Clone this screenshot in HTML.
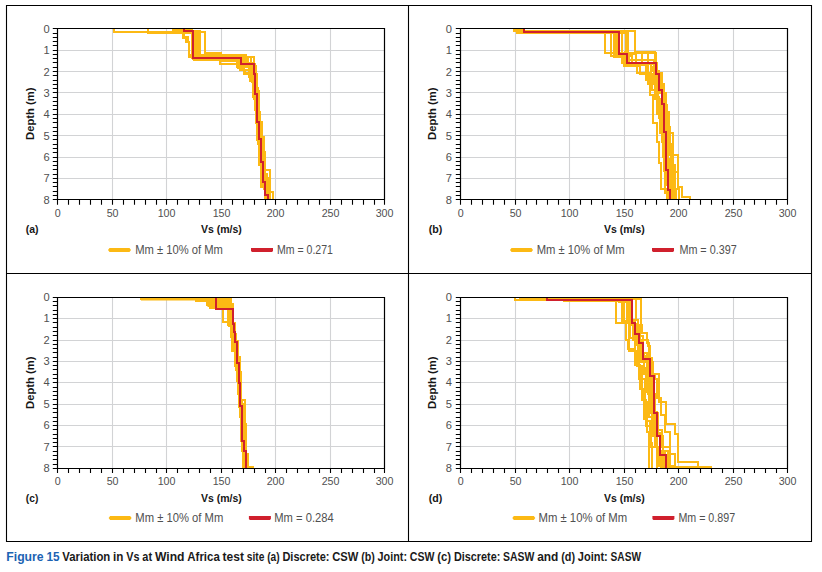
<!DOCTYPE html><html><head><meta charset="utf-8"><title>Figure 15</title><style>html,body{margin:0;padding:0;background:#fff}body{width:822px;height:572px;overflow:hidden}svg{display:block}</style></head><body>
<svg width="822" height="572" viewBox="0 0 822 572" font-family="'Liberation Sans', Arial, sans-serif">
<rect width="822" height="572" fill="#fff"/>
<path d="M6.5 5.5H811.5V541.5H6.5ZM408.5 5.5V541.5M6.5 273.5H811.5" fill="none" stroke="#000" stroke-width="1.1"/>
<g transform="translate(0,0)">
<path d="M112.5 29V199M166.5 29V199M221.5 29V199M275.5 29V199M330.5 29V199M58 50.5H384M58 71.5H384M58 92.5H384M58 114.5H384M58 135.5H384M58 157.5H384M58 178.5H384" stroke="#d2d3d5" stroke-width="1.1" fill="none"/>
<g fill="none" stroke-width="2" stroke-linejoin="miter" stroke-linecap="butt">
<polyline points="114,29 114,32 183,32 183,38 186,38 186,42 189,42 189,57 251,57 251,65 255,65 255,84 256,84 256,101 258,101 258,127 260,127 260,148 261,148 261,167 264,167 264,189 267,189 267,199" stroke="#fcb914"/>
<polyline points="148,29 148,33 196,33 196,60 238,60 238,68 244,68 244,74 250,74 250,81 253,81 253,97 257,97 257,114 260,114 260,135 262,135 262,152 265,152 265,170 270,170 270,192 273,192 273,199" stroke="#fcb914"/>
<polyline points="173,29 173,31 198,31 198,60 220,60 220,64 240,64 240,70 245,70 245,73 252,73 252,82 254,82 254,97 256,97 256,120 260,120 260,142 261,142 261,157 265,157 265,185 269,185 269,199" stroke="#fcb914"/>
<polyline points="179,29 179,31 200,31 200,55 239,55 239,57 248,57 248,64 255,64 255,88 258,88 258,112 260,112 260,133 262,133 262,152 265,152 265,170 270,170 270,192 273,192 273,199" stroke="#fcb914"/>
<polyline points="185,29 185,30 192,30 192,57 254,57 254,63 253,63 253,82 256,82 256,99 259,99 259,127 261,127 261,146 264,146 264,174 267,174 267,199" stroke="#fcb914"/>
<polyline points="184,29 184,32 205,32 205,53 221,53 221,55 246,55 246,63 250,63 250,76 255,76 255,103 257,103 257,118 260,118 260,135 261,135 261,157 264,157 264,178 268,178 268,199" stroke="#fcb914"/>
<polyline points="181,29 181,31 194,31 194,60 220,60 220,61 237,61 237,67 249,67 249,77 254,77 254,93 258,93 258,131 260,131 260,148 262,148 262,170 265,170 265,189 270,189 270,199" stroke="#fcb914"/>
<polyline points="182,29 182,32 193,32 193,59 243,59 243,70 253,70 253,93 255,93 255,110 257,110 257,140 259,140 259,165 261,165 261,187 266,187 266,199" stroke="#fcb914"/>
<polyline points="175,29 175,30 184,30 184,37 188,37 188,42 189,42 189,55 245,55 245,63 252,63 252,78 254,78 254,99 256,99 256,123 258,123 258,144 261,144 261,163 262,163 262,185 265,185 265,199" stroke="#fcb914"/>
<polyline points="192,31 192,58 240,58 240,66 256,66 256,74 257,74 257,94 256,94 256,122 262,122 262,137 264,137 264,162 264,162 264,182 267,182 267,196 267,196 267,199" stroke="#fcb914"/>
<polyline points="239,59 239,65 254,65 254,73 254,73 254,91 259,91 259,121 257,121 257,138 263,138 263,164 261,164 261,183 266,183 266,195 267,195 267,199" stroke="#fcb914"/>
<polyline points="184,29 184,31 193,31 193,58 241,58 241,64 254,64 254,74 255,74 255,94 257,94 257,122 259,122 259,139 261,139 261,162 263,162 263,182 265,182 265,195 268,195 268,199" stroke="#d0202d"/>
</g>
<path d="M57.5 28.5H384.5V199.5H57.5Z" fill="none" stroke="#000" stroke-width="1.2"/>
<path d="M57.5 199.5V204.8M68.5 199.5V204.8M79.5 199.5V204.8M90.5 199.5V204.8M101.5 199.5V204.8M112.5 199.5V204.8M123.5 199.5V204.8M134.5 199.5V204.8M145.5 199.5V204.8M156.5 199.5V204.8M166.5 199.5V204.8M177.5 199.5V204.8M188.5 199.5V204.8M199.5 199.5V204.8M210.5 199.5V204.8M221.5 199.5V204.8M232.5 199.5V204.8M243.5 199.5V204.8M254.5 199.5V204.8M265.5 199.5V204.8M275.5 199.5V204.8M286.5 199.5V204.8M297.5 199.5V204.8M308.5 199.5V204.8M319.5 199.5V204.8M330.5 199.5V204.8M341.5 199.5V204.8M352.5 199.5V204.8M363.5 199.5V204.8M374.5 199.5V204.8M384.5 199.5V204.8M52.8 28.5H57.5M52.8 33.5H57.5M52.8 37.5H57.5M52.8 41.5H57.5M52.8 45.5H57.5M52.8 50.5H57.5M52.8 54.5H57.5M52.8 58.5H57.5M52.8 62.5H57.5M52.8 67.5H57.5M52.8 71.5H57.5M52.8 75.5H57.5M52.8 80.5H57.5M52.8 84.5H57.5M52.8 88.5H57.5M52.8 92.5H57.5M52.8 97.5H57.5M52.8 101.5H57.5M52.8 105.5H57.5M52.8 109.5H57.5M52.8 114.5H57.5M52.8 118.5H57.5M52.8 122.5H57.5M52.8 127.5H57.5M52.8 131.5H57.5M52.8 135.5H57.5M52.8 139.5H57.5M52.8 144.5H57.5M52.8 148.5H57.5M52.8 152.5H57.5M52.8 157.5H57.5M52.8 161.5H57.5M52.8 165.5H57.5M52.8 169.5H57.5M52.8 174.5H57.5M52.8 178.5H57.5M52.8 182.5H57.5M52.8 186.5H57.5M52.8 191.5H57.5M52.8 195.5H57.5M52.8 199.5H57.5" stroke="#000" stroke-width="1.1" fill="none"/>
<g font-size="11" fill="#505050"><text x="49.6" y="32.8" text-anchor="end" textLength="6.2" lengthAdjust="spacingAndGlyphs">0</text><text x="49.6" y="54.2" text-anchor="end" textLength="6.2" lengthAdjust="spacingAndGlyphs">1</text><text x="49.6" y="75.5" text-anchor="end" textLength="6.2" lengthAdjust="spacingAndGlyphs">2</text><text x="49.6" y="96.9" text-anchor="end" textLength="6.2" lengthAdjust="spacingAndGlyphs">3</text><text x="49.6" y="118.3" text-anchor="end" textLength="6.2" lengthAdjust="spacingAndGlyphs">4</text><text x="49.6" y="139.7" text-anchor="end" textLength="6.2" lengthAdjust="spacingAndGlyphs">5</text><text x="49.6" y="161.1" text-anchor="end" textLength="6.2" lengthAdjust="spacingAndGlyphs">6</text><text x="49.6" y="182.4" text-anchor="end" textLength="6.2" lengthAdjust="spacingAndGlyphs">7</text><text x="49.6" y="203.8" text-anchor="end" textLength="6.2" lengthAdjust="spacingAndGlyphs">8</text><text x="57.6" y="216.9" text-anchor="middle" textLength="5.95" lengthAdjust="spacingAndGlyphs">0</text><text x="112.6" y="216.9" text-anchor="middle" textLength="11.90" lengthAdjust="spacingAndGlyphs">50</text><text x="166.6" y="216.9" text-anchor="middle" textLength="17.85" lengthAdjust="spacingAndGlyphs">100</text><text x="221.6" y="216.9" text-anchor="middle" textLength="17.85" lengthAdjust="spacingAndGlyphs">150</text><text x="275.6" y="216.9" text-anchor="middle" textLength="17.85" lengthAdjust="spacingAndGlyphs">200</text><text x="330.6" y="216.9" text-anchor="middle" textLength="17.85" lengthAdjust="spacingAndGlyphs">250</text><text x="384.6" y="216.9" text-anchor="middle" textLength="17.85" lengthAdjust="spacingAndGlyphs">300</text></g>
<g font-weight="bold" font-size="11.6" fill="#161616">
<text x="200.9" y="233.4" textLength="40.9" lengthAdjust="spacingAndGlyphs">Vs (m/s)</text>
<text x="25.8" y="233.4" textLength="12.8" lengthAdjust="spacingAndGlyphs">(a)</text>
<text transform="translate(33.9,139.9) rotate(-90)" textLength="52.3" lengthAdjust="spacingAndGlyphs">Depth (m)</text>
</g>
<polygon points="108,250 109.5,248 129.5,248 131,250 129.5,252 109.5,252" fill="#fcb914"/>
<polygon points="251,248 273,248 273,251 272,252 252,252 251,251" fill="#d0202d"/>
<g font-size="12.4" fill="#505050">
<text x="135.2" y="253.9" textLength="87.7" lengthAdjust="spacingAndGlyphs">Mm ± 10% of Mm</text>
<text x="277.0" y="253.9" textLength="55.9" lengthAdjust="spacingAndGlyphs">Mm = 0.271</text>
</g></g>
<g transform="translate(403,0)">
<path d="M112.5 29V199M166.5 29V199M221.5 29V199M275.5 29V199M330.5 29V199M58 50.5H384M58 71.5H384M58 92.5H384M58 114.5H384M58 135.5H384M58 157.5H384M58 178.5H384" stroke="#d2d3d5" stroke-width="1.1" fill="none"/>
<g fill="none" stroke-width="2" stroke-linejoin="miter" stroke-linecap="butt">
<polyline points="111,29 111,31 202,31 202,53 253,53 253,63 254,63 254,73 258,73 258,88 260,88 260,112 264,112 264,133 266,133 266,155 270,155 270,172 275,172 275,187 279,187 279,197 287,197 287,199" stroke="#fcb914"/>
<polyline points="114,29 114,32 208,32 208,56 219,56 219,63 234,63 234,73 247,73 247,95 250,95 250,123 254,123 254,142 256,142 256,163 258,163 258,189 264,189 264,199" stroke="#fcb914"/>
<polyline points="117,29 117,31 211,31 211,57 226,57 226,64 243,64 243,80 252,80 252,99 257,99 257,123 261,123 261,146 265,146 265,172 269,172 269,191 273,191 273,199" stroke="#fcb914"/>
<polyline points="120,29 120,32 213,32 213,56 229,56 229,65 245,65 245,84 254,84 254,112 259,112 259,135 262,135 262,159 266,159 266,182 270,182 270,199" stroke="#fcb914"/>
<polyline points="114,29 114,33 219,33 219,53 239,53 239,63 251,63 251,82 255,82 255,103 259,103 259,125 264,125 264,146 268,146 268,165 272,165 272,189 276,189 276,199" stroke="#fcb914"/>
<polyline points="119,29 119,33 223,33 223,53 245,53 245,64 254,64 254,73 259,73 259,93 263,93 263,112 266,112 266,133 270,133 270,155 275,155 275,172 271,172 271,199" stroke="#fcb914"/>
<polyline points="116,29 116,32 225,32 225,54 233,54 233,64 248,64 248,76 253,76 253,97 256,97 256,118 259,118 259,142 261,142 261,163 264,163 264,185 267,185 267,199" stroke="#fcb914"/>
<polyline points="113,29 113,31 232,31 232,52 252,52 252,63 254,63 254,73 258,73 258,84 261,84 261,105 264,105 264,127 267,127 267,144 268,144 268,170 270,170 270,191 272,191 272,199" stroke="#fcb914"/>
<polyline points="119,29 119,31 214,31 214,57 221,57 221,66 237,66 237,74 249,74 249,90 254,90 254,114 257,114 257,133 260,133 260,157 262,157 262,178 266,178 266,199" stroke="#fcb914"/>
<polyline points="223,55 223,64 253,64 253,74 253,74 253,88 259,88 259,106 259,106 259,134 261,134 261,170 262,170 262,190 269,190 269,199" stroke="#fcb914"/>
<polyline points="222,51 222,60 253,60 253,77 257,77 257,88 259,88 259,102 262,102 262,133 263,133 263,169 262,169 262,193 268,193 268,199" stroke="#fcb914"/>
<polyline points="251,67 251,70 254,70 254,91 261,91 261,104 261,104 261,132 264,132 264,167 267,167 267,187 267,187 267,199" stroke="#fcb914"/>
<polyline points="251,61 251,77 256,77 256,88 260,88 260,105 257,105 257,129 261,129 261,171 266,171 266,188 267,188 267,199" stroke="#fcb914"/>
<polyline points="250,66 250,71 256,71 256,93 260,93 260,106 260,106 260,128 263,128 263,174 265,174 265,188 268,188 268,199" stroke="#fcb914"/>
<polyline points="121,29 121,32 216,32 216,54 224,54 224,63 253,63 253,74 256,74 256,90 259,90 259,104 261,104 261,132 263,132 263,170 265,170 265,190 267,190 267,199" stroke="#d0202d"/>
</g>
<path d="M57.5 28.5H384.5V199.5H57.5Z" fill="none" stroke="#000" stroke-width="1.2"/>
<path d="M57.5 199.5V204.8M68.5 199.5V204.8M79.5 199.5V204.8M90.5 199.5V204.8M101.5 199.5V204.8M112.5 199.5V204.8M123.5 199.5V204.8M133.5 199.5V204.8M144.5 199.5V204.8M155.5 199.5V204.8M166.5 199.5V204.8M177.5 199.5V204.8M188.5 199.5V204.8M199.5 199.5V204.8M210.5 199.5V204.8M221.5 199.5V204.8M232.5 199.5V204.8M242.5 199.5V204.8M253.5 199.5V204.8M264.5 199.5V204.8M275.5 199.5V204.8M286.5 199.5V204.8M297.5 199.5V204.8M308.5 199.5V204.8M319.5 199.5V204.8M330.5 199.5V204.8M341.5 199.5V204.8M351.5 199.5V204.8M362.5 199.5V204.8M373.5 199.5V204.8M384.5 199.5V204.8M52.8 28.5H57.5M52.8 33.5H57.5M52.8 37.5H57.5M52.8 41.5H57.5M52.8 45.5H57.5M52.8 50.5H57.5M52.8 54.5H57.5M52.8 58.5H57.5M52.8 62.5H57.5M52.8 67.5H57.5M52.8 71.5H57.5M52.8 75.5H57.5M52.8 80.5H57.5M52.8 84.5H57.5M52.8 88.5H57.5M52.8 92.5H57.5M52.8 97.5H57.5M52.8 101.5H57.5M52.8 105.5H57.5M52.8 109.5H57.5M52.8 114.5H57.5M52.8 118.5H57.5M52.8 122.5H57.5M52.8 127.5H57.5M52.8 131.5H57.5M52.8 135.5H57.5M52.8 139.5H57.5M52.8 144.5H57.5M52.8 148.5H57.5M52.8 152.5H57.5M52.8 157.5H57.5M52.8 161.5H57.5M52.8 165.5H57.5M52.8 169.5H57.5M52.8 174.5H57.5M52.8 178.5H57.5M52.8 182.5H57.5M52.8 186.5H57.5M52.8 191.5H57.5M52.8 195.5H57.5M52.8 199.5H57.5" stroke="#000" stroke-width="1.1" fill="none"/>
<g font-size="11" fill="#505050"><text x="48.9" y="32.8" text-anchor="end" textLength="6.2" lengthAdjust="spacingAndGlyphs">0</text><text x="48.9" y="54.2" text-anchor="end" textLength="6.2" lengthAdjust="spacingAndGlyphs">1</text><text x="48.9" y="75.5" text-anchor="end" textLength="6.2" lengthAdjust="spacingAndGlyphs">2</text><text x="48.9" y="96.9" text-anchor="end" textLength="6.2" lengthAdjust="spacingAndGlyphs">3</text><text x="48.9" y="118.3" text-anchor="end" textLength="6.2" lengthAdjust="spacingAndGlyphs">4</text><text x="48.9" y="139.7" text-anchor="end" textLength="6.2" lengthAdjust="spacingAndGlyphs">5</text><text x="48.9" y="161.1" text-anchor="end" textLength="6.2" lengthAdjust="spacingAndGlyphs">6</text><text x="48.9" y="182.4" text-anchor="end" textLength="6.2" lengthAdjust="spacingAndGlyphs">7</text><text x="48.9" y="203.8" text-anchor="end" textLength="6.2" lengthAdjust="spacingAndGlyphs">8</text><text x="57.6" y="216.9" text-anchor="middle" textLength="5.95" lengthAdjust="spacingAndGlyphs">0</text><text x="112.6" y="216.9" text-anchor="middle" textLength="11.90" lengthAdjust="spacingAndGlyphs">50</text><text x="166.6" y="216.9" text-anchor="middle" textLength="17.85" lengthAdjust="spacingAndGlyphs">100</text><text x="221.6" y="216.9" text-anchor="middle" textLength="17.85" lengthAdjust="spacingAndGlyphs">150</text><text x="275.6" y="216.9" text-anchor="middle" textLength="17.85" lengthAdjust="spacingAndGlyphs">200</text><text x="330.6" y="216.9" text-anchor="middle" textLength="17.85" lengthAdjust="spacingAndGlyphs">250</text><text x="384.6" y="216.9" text-anchor="middle" textLength="17.85" lengthAdjust="spacingAndGlyphs">300</text></g>
<g font-weight="bold" font-size="11.6" fill="#161616">
<text x="200.9" y="233.4" textLength="40.9" lengthAdjust="spacingAndGlyphs">Vs (m/s)</text>
<text x="25.8" y="233.4" textLength="13.6" lengthAdjust="spacingAndGlyphs">(b)</text>
<text transform="translate(32.9,139.9) rotate(-90)" textLength="52.3" lengthAdjust="spacingAndGlyphs">Depth (m)</text>
</g>
<polygon points="107,250 108.5,248 128.5,248 130,250 128.5,252 108.5,252" fill="#fcb914"/>
<polygon points="249,248 271,248 271,251 270,252 250,252 249,251" fill="#d0202d"/>
<g font-size="12.4" fill="#505050">
<text x="133.7" y="253.9" textLength="88.0" lengthAdjust="spacingAndGlyphs">Mm ± 10% of Mm</text>
<text x="276.4" y="253.9" textLength="57.3" lengthAdjust="spacingAndGlyphs">Mm = 0.397</text>
</g></g>
<g transform="translate(0,269)">
<path d="M112.5 29V199M166.5 29V199M221.5 29V199M275.5 29V199M330.5 29V199M58 49.5H384M58 71.5H384M58 92.5H384M58 113.5H384M58 135.5H384M58 156.5H384M58 177.5H384" stroke="#d2d3d5" stroke-width="1.1" fill="none"/>
<g fill="none" stroke-width="2" stroke-linejoin="miter" stroke-linecap="butt">
<polyline points="141,29 141,30 223,30 223,53 229,53 229,56 231,56 231,68 232,68 232,82 235,82 235,95 237,95 237,112 239,112 239,138 241,138 241,172 243,172 243,199" stroke="#fcb914"/>
<polyline points="185,29 185,30 229,30 229,57 232,57 232,76 235,76 235,97 238,97 238,116 240,116 240,135 244,135 244,155 246,155 246,185 248,185 248,198 253,198 253,199" stroke="#fcb914"/>
<polyline points="196,29 196,32 230,32 230,54 235,54 235,65 236,65 236,72 238,72 238,93 240,93 240,103 241,103 241,131 245,131 245,155 246,155 246,185 247,185 247,199" stroke="#fcb914"/>
<polyline points="207,29 207,36 231,36 231,55 233,55 233,73 235,73 235,93 238,93 238,114 240,114 240,140 242,140 242,167 244,167 244,189 247,189 247,199" stroke="#fcb914"/>
<polyline points="210,29 210,39 232,39 232,58 234,58 234,69 236,69 236,90 238,90 238,105 240,105 240,127 241,127 241,148 243,148 243,176 245,176 245,199" stroke="#fcb914"/>
<polyline points="223,29 223,39 232,39 232,56 234,56 234,71 236,71 236,88 240,88 240,94 239,94 239,114 241,114 241,131 242,131 242,157 244,157 244,182 246,182 246,199" stroke="#fcb914"/>
<polyline points="166,29 166,29 228,29 228,56 231,56 231,67 233,67 233,82 236,82 236,101 238,101 238,125 240,125 240,148 242,148 242,182 244,182 244,199" stroke="#fcb914"/>
<polygon points="141,29 232,29 232,34 234,34 234,40 211,40 211,38 207.5,38 207.5,37 206,37 206,33 196,33 196,31.4 141,31.4" fill="#fcb914" stroke="none"/>
<polyline points="216,29 216,40 233,40 233,55 234,55 234,63 235,63 235,73 237,73 237,94 239,94 239,114 240,114 240,137 242,137 242,172 244,172 244,182 246,182 246,199" stroke="#d0202d"/>
</g>
<path d="M57.5 28.5H384.5V199.5H57.5Z" fill="none" stroke="#000" stroke-width="1.2"/>
<path d="M57.5 199.5V203.9M68.5 199.5V203.9M79.5 199.5V203.9M90.5 199.5V203.9M101.5 199.5V203.9M112.5 199.5V203.9M123.5 199.5V203.9M134.5 199.5V203.9M145.5 199.5V203.9M156.5 199.5V203.9M166.5 199.5V203.9M177.5 199.5V203.9M188.5 199.5V203.9M199.5 199.5V203.9M210.5 199.5V203.9M221.5 199.5V203.9M232.5 199.5V203.9M243.5 199.5V203.9M254.5 199.5V203.9M265.5 199.5V203.9M275.5 199.5V203.9M286.5 199.5V203.9M297.5 199.5V203.9M308.5 199.5V203.9M319.5 199.5V203.9M330.5 199.5V203.9M341.5 199.5V203.9M352.5 199.5V203.9M363.5 199.5V203.9M374.5 199.5V203.9M384.5 199.5V203.9M52.8 28.5H57.5M52.8 32.5H57.5M52.8 36.5H57.5M52.8 41.5H57.5M52.8 45.5H57.5M52.8 49.5H57.5M52.8 53.5H57.5M52.8 58.5H57.5M52.8 62.5H57.5M52.8 66.5H57.5M52.8 71.5H57.5M52.8 75.5H57.5M52.8 79.5H57.5M52.8 83.5H57.5M52.8 88.5H57.5M52.8 92.5H57.5M52.8 96.5H57.5M52.8 100.5H57.5M52.8 105.5H57.5M52.8 109.5H57.5M52.8 113.5H57.5M52.8 118.5H57.5M52.8 122.5H57.5M52.8 126.5H57.5M52.8 130.5H57.5M52.8 135.5H57.5M52.8 139.5H57.5M52.8 143.5H57.5M52.8 148.5H57.5M52.8 152.5H57.5M52.8 156.5H57.5M52.8 160.5H57.5M52.8 165.5H57.5M52.8 169.5H57.5M52.8 173.5H57.5M52.8 177.5H57.5M52.8 182.5H57.5M52.8 186.5H57.5M52.8 190.5H57.5M52.8 195.5H57.5M52.8 199.5H57.5" stroke="#000" stroke-width="1.1" fill="none"/>
<g font-size="11" fill="#505050"><text x="49.6" y="31.9" text-anchor="end" textLength="6.2" lengthAdjust="spacingAndGlyphs">0</text><text x="49.6" y="53.3" text-anchor="end" textLength="6.2" lengthAdjust="spacingAndGlyphs">1</text><text x="49.6" y="74.6" text-anchor="end" textLength="6.2" lengthAdjust="spacingAndGlyphs">2</text><text x="49.6" y="96.0" text-anchor="end" textLength="6.2" lengthAdjust="spacingAndGlyphs">3</text><text x="49.6" y="117.4" text-anchor="end" textLength="6.2" lengthAdjust="spacingAndGlyphs">4</text><text x="49.6" y="138.8" text-anchor="end" textLength="6.2" lengthAdjust="spacingAndGlyphs">5</text><text x="49.6" y="160.2" text-anchor="end" textLength="6.2" lengthAdjust="spacingAndGlyphs">6</text><text x="49.6" y="181.5" text-anchor="end" textLength="6.2" lengthAdjust="spacingAndGlyphs">7</text><text x="49.6" y="202.9" text-anchor="end" textLength="6.2" lengthAdjust="spacingAndGlyphs">8</text><text x="57.6" y="216.0" text-anchor="middle" textLength="5.95" lengthAdjust="spacingAndGlyphs">0</text><text x="112.6" y="216.0" text-anchor="middle" textLength="11.90" lengthAdjust="spacingAndGlyphs">50</text><text x="166.6" y="216.0" text-anchor="middle" textLength="17.85" lengthAdjust="spacingAndGlyphs">100</text><text x="221.6" y="216.0" text-anchor="middle" textLength="17.85" lengthAdjust="spacingAndGlyphs">150</text><text x="275.6" y="216.0" text-anchor="middle" textLength="17.85" lengthAdjust="spacingAndGlyphs">200</text><text x="330.6" y="216.0" text-anchor="middle" textLength="17.85" lengthAdjust="spacingAndGlyphs">250</text><text x="384.6" y="216.0" text-anchor="middle" textLength="17.85" lengthAdjust="spacingAndGlyphs">300</text></g>
<g font-weight="bold" font-size="11.6" fill="#161616">
<text x="200.9" y="233.4" textLength="40.9" lengthAdjust="spacingAndGlyphs">Vs (m/s)</text>
<text x="25.8" y="233.4" textLength="12.5" lengthAdjust="spacingAndGlyphs">(c)</text>
<text transform="translate(33.9,139.9) rotate(-90)" textLength="52.3" lengthAdjust="spacingAndGlyphs">Depth (m)</text>
</g>
<polygon points="108.6,249 110.1,247 130.1,247 131.6,249 130.1,251 110.1,251" fill="#fcb914"/>
<polygon points="248.9,247 270.9,247 270.9,250 269.9,251 249.9,251 248.9,250" fill="#d0202d"/>
<g font-size="12.4" fill="#505050">
<text x="135.29999999999998" y="252.9" textLength="88.0" lengthAdjust="spacingAndGlyphs">Mm ± 10% of Mm</text>
<text x="274.3" y="252.9" textLength="59.4" lengthAdjust="spacingAndGlyphs">Mm = 0.284</text>
</g></g>
<g transform="translate(403,269)">
<path d="M112.5 29V199M166.5 29V199M221.5 29V199M275.5 29V199M330.5 29V199M58 49.5H384M58 71.5H384M58 92.5H384M58 113.5H384M58 135.5H384M58 156.5H384M58 177.5H384" stroke="#d2d3d5" stroke-width="1.1" fill="none"/>
<g fill="none" stroke-width="2" stroke-linejoin="miter" stroke-linecap="butt">
<polyline points="112,29 112,31 213,31 213,54 223,54 223,71 225,71 225,80 232,80 232,96 237,96 237,120 241,120 241,150 244,150 244,163 246,163 246,199" stroke="#fcb914"/>
<polyline points="161,29 161,32 221,32 221,54 230,54 230,71 235,71 235,86 241,86 241,105 245,105 245,125 249,125 249,146 255,146 255,167 260,167 260,182 265,182 265,199" stroke="#fcb914"/>
<polyline points="188,29 188,31 224,31 224,51 226,51 226,82 234,82 234,97 239,97 239,131 243,131 243,157 248,157 248,178 254,178 254,199" stroke="#fcb914"/>
<polyline points="210,29 210,31 226,31 226,56 237,56 237,71 245,71 245,77 247,77 247,93 250,93 250,105 256,105 256,133 263,133 263,155 272,155 272,165 275,165 275,193 295,193 295,199" stroke="#fcb914"/>
<polyline points="128,29 128,30 233,30 233,51 235,51 235,67 240,67 240,84 244,84 244,103 248,103 248,125 252,125 252,144 255,144 255,161 259,161 259,178 267,178 267,198 308,198 308,199" stroke="#fcb914"/>
<polyline points="221,29 221,30 238,30 238,56 239,56 239,64 244,64 244,74 246,74 246,89 249,89 249,106 252,106 252,110 254,110 254,129 258,129 258,146 262,146 262,163 267,163 267,185 272,185 272,199" stroke="#fcb914"/>
<polyline points="177,29 177,31 226,31 226,53 232,53 232,63 236,63 236,84 241,84 241,99 243,99 243,123 246,123 246,148 250,148 250,167 254,167 254,189 258,189 258,199" stroke="#fcb914"/>
<polyline points="216,29 216,33 228,33 228,55 234,55 234,76 238,76 238,93 245,93 245,114 247,114 247,135 249,135 249,157 252,157 252,178 256,178 256,197 270,197 270,199" stroke="#fcb914"/>
<polyline points="117,29 117,30 219,30 219,52 227,52 227,69 232,69 232,88 236,88 236,110 242,110 242,133 244,133 244,152 247,152 247,174 249,174 249,199" stroke="#fcb914"/>
<polyline points="229,30 229,53 232,53 232,63 237,63 237,76 238,76 238,90 244,90 244,108 248,108 248,144 254,144 254,166 254,166 254,188 263,188 263,199" stroke="#fcb914"/>
<polyline points="227,32 227,51 231,51 231,63 233,63 233,72 238,72 238,91 247,91 247,108 251,108 251,147 252,147 252,164 257,164 257,186 264,186 264,199" stroke="#fcb914"/>
<polyline points="232,56 232,62 234,62 234,73 239,73 239,91 244,91 244,110 247,110 247,144 254,144 254,167 257,167 257,182 260,182 260,199" stroke="#fcb914"/>
<polyline points="231,55 231,67 234,67 234,72 238,72 238,88 246,88 246,105 249,105 249,142 251,142 251,164 257,164 257,184 262,184 262,199" stroke="#fcb914"/>
<polyline points="232,54 232,62 234,62 234,73 240,73 240,87 247,87 247,104 250,104 250,143 254,143 254,164 257,164 257,185 261,185 261,199" stroke="#fcb914"/>
<polyline points="144,29 144,31 229,31 229,54 232,54 232,65 236,65 236,74 240,74 240,90 247,90 247,107 251,107 251,144 254,144 254,167 257,167 257,186 263,186 263,199" stroke="#d0202d"/>
</g>
<path d="M57.5 28.5H384.5V199.5H57.5Z" fill="none" stroke="#000" stroke-width="1.2"/>
<path d="M57.5 199.5V203.9M68.5 199.5V203.9M79.5 199.5V203.9M90.5 199.5V203.9M101.5 199.5V203.9M112.5 199.5V203.9M123.5 199.5V203.9M133.5 199.5V203.9M144.5 199.5V203.9M155.5 199.5V203.9M166.5 199.5V203.9M177.5 199.5V203.9M188.5 199.5V203.9M199.5 199.5V203.9M210.5 199.5V203.9M221.5 199.5V203.9M232.5 199.5V203.9M242.5 199.5V203.9M253.5 199.5V203.9M264.5 199.5V203.9M275.5 199.5V203.9M286.5 199.5V203.9M297.5 199.5V203.9M308.5 199.5V203.9M319.5 199.5V203.9M330.5 199.5V203.9M341.5 199.5V203.9M351.5 199.5V203.9M362.5 199.5V203.9M373.5 199.5V203.9M384.5 199.5V203.9M52.8 28.5H57.5M52.8 32.5H57.5M52.8 36.5H57.5M52.8 41.5H57.5M52.8 45.5H57.5M52.8 49.5H57.5M52.8 53.5H57.5M52.8 58.5H57.5M52.8 62.5H57.5M52.8 66.5H57.5M52.8 71.5H57.5M52.8 75.5H57.5M52.8 79.5H57.5M52.8 83.5H57.5M52.8 88.5H57.5M52.8 92.5H57.5M52.8 96.5H57.5M52.8 100.5H57.5M52.8 105.5H57.5M52.8 109.5H57.5M52.8 113.5H57.5M52.8 118.5H57.5M52.8 122.5H57.5M52.8 126.5H57.5M52.8 130.5H57.5M52.8 135.5H57.5M52.8 139.5H57.5M52.8 143.5H57.5M52.8 148.5H57.5M52.8 152.5H57.5M52.8 156.5H57.5M52.8 160.5H57.5M52.8 165.5H57.5M52.8 169.5H57.5M52.8 173.5H57.5M52.8 177.5H57.5M52.8 182.5H57.5M52.8 186.5H57.5M52.8 190.5H57.5M52.8 195.5H57.5M52.8 199.5H57.5" stroke="#000" stroke-width="1.1" fill="none"/>
<g font-size="11" fill="#505050"><text x="48.9" y="31.9" text-anchor="end" textLength="6.2" lengthAdjust="spacingAndGlyphs">0</text><text x="48.9" y="53.3" text-anchor="end" textLength="6.2" lengthAdjust="spacingAndGlyphs">1</text><text x="48.9" y="74.6" text-anchor="end" textLength="6.2" lengthAdjust="spacingAndGlyphs">2</text><text x="48.9" y="96.0" text-anchor="end" textLength="6.2" lengthAdjust="spacingAndGlyphs">3</text><text x="48.9" y="117.4" text-anchor="end" textLength="6.2" lengthAdjust="spacingAndGlyphs">4</text><text x="48.9" y="138.8" text-anchor="end" textLength="6.2" lengthAdjust="spacingAndGlyphs">5</text><text x="48.9" y="160.2" text-anchor="end" textLength="6.2" lengthAdjust="spacingAndGlyphs">6</text><text x="48.9" y="181.5" text-anchor="end" textLength="6.2" lengthAdjust="spacingAndGlyphs">7</text><text x="48.9" y="202.9" text-anchor="end" textLength="6.2" lengthAdjust="spacingAndGlyphs">8</text><text x="57.6" y="216.0" text-anchor="middle" textLength="5.95" lengthAdjust="spacingAndGlyphs">0</text><text x="112.6" y="216.0" text-anchor="middle" textLength="11.90" lengthAdjust="spacingAndGlyphs">50</text><text x="166.6" y="216.0" text-anchor="middle" textLength="17.85" lengthAdjust="spacingAndGlyphs">100</text><text x="221.6" y="216.0" text-anchor="middle" textLength="17.85" lengthAdjust="spacingAndGlyphs">150</text><text x="275.6" y="216.0" text-anchor="middle" textLength="17.85" lengthAdjust="spacingAndGlyphs">200</text><text x="330.6" y="216.0" text-anchor="middle" textLength="17.85" lengthAdjust="spacingAndGlyphs">250</text><text x="384.6" y="216.0" text-anchor="middle" textLength="17.85" lengthAdjust="spacingAndGlyphs">300</text></g>
<g font-weight="bold" font-size="11.6" fill="#161616">
<text x="200.9" y="233.4" textLength="40.9" lengthAdjust="spacingAndGlyphs">Vs (m/s)</text>
<text x="25.8" y="233.4" textLength="13.6" lengthAdjust="spacingAndGlyphs">(d)</text>
<text transform="translate(32.9,139.9) rotate(-90)" textLength="52.3" lengthAdjust="spacingAndGlyphs">Depth (m)</text>
</g>
<polygon points="109.3,249 110.8,247 130.8,247 132.3,249 130.8,251 110.8,251" fill="#fcb914"/>
<polygon points="249.4,247 271.4,247 271.4,250 270.4,251 250.4,251 249.4,250" fill="#d0202d"/>
<g font-size="12.4" fill="#505050">
<text x="135.5" y="252.9" textLength="88.6" lengthAdjust="spacingAndGlyphs">Mm ± 10% of Mm</text>
<text x="275.4" y="252.9" textLength="56.7" lengthAdjust="spacingAndGlyphs">Mm = 0.897</text>
</g></g>
<g font-weight="bold" font-size="13.4" fill="#1a1a1a">
<text x="6.3" y="560.6" textLength="37.3" lengthAdjust="spacingAndGlyphs" fill="#1c63b3">Figure</text>
<text x="46.4" y="560.6" textLength="13.1" lengthAdjust="spacingAndGlyphs" fill="#1c63b3">15</text>
<text x="62.3" y="560.6" textLength="48.0" lengthAdjust="spacingAndGlyphs">Variation</text>
<text x="113.1" y="560.6" textLength="10.4" lengthAdjust="spacingAndGlyphs">in</text>
<text x="126.3" y="560.6" textLength="13.2" lengthAdjust="spacingAndGlyphs">Vs</text>
<text x="142.3" y="560.6" textLength="9.8" lengthAdjust="spacingAndGlyphs">at</text>
<text x="154.9" y="560.6" textLength="29.6" lengthAdjust="spacingAndGlyphs">Wind</text>
<text x="187.3" y="560.6" textLength="32.5" lengthAdjust="spacingAndGlyphs">Africa</text>
<text x="222.6" y="560.6" textLength="21.4" lengthAdjust="spacingAndGlyphs">test</text>
<text x="246.8" y="560.6" textLength="17.6" lengthAdjust="spacingAndGlyphs">site</text>
<text x="267.2" y="560.6" textLength="12.4" lengthAdjust="spacingAndGlyphs">(a)</text>
<text x="282.4" y="560.6" textLength="47.1" lengthAdjust="spacingAndGlyphs">Discrete:</text>
<text x="332.3" y="560.6" textLength="26.1" lengthAdjust="spacingAndGlyphs">CSW</text>
<text x="361.2" y="560.6" textLength="13.6" lengthAdjust="spacingAndGlyphs">(b)</text>
<text x="377.6" y="560.6" textLength="29.4" lengthAdjust="spacingAndGlyphs">Joint:</text>
<text x="409.8" y="560.6" textLength="24.6" lengthAdjust="spacingAndGlyphs">CSW</text>
<text x="437.2" y="560.6" textLength="13.9" lengthAdjust="spacingAndGlyphs">(c)</text>
<text x="453.9" y="560.6" textLength="46.4" lengthAdjust="spacingAndGlyphs">Discrete:</text>
<text x="503.1" y="560.6" textLength="31.3" lengthAdjust="spacingAndGlyphs">SASW</text>
<text x="537.2" y="560.6" textLength="21.2" lengthAdjust="spacingAndGlyphs">and</text>
<text x="561.2" y="560.6" textLength="13.8" lengthAdjust="spacingAndGlyphs">(d)</text>
<text x="577.8" y="560.6" textLength="30.0" lengthAdjust="spacingAndGlyphs">Joint:</text>
<text x="610.6" y="560.6" textLength="30.5" lengthAdjust="spacingAndGlyphs">SASW</text>
</g>
</svg></body></html>
